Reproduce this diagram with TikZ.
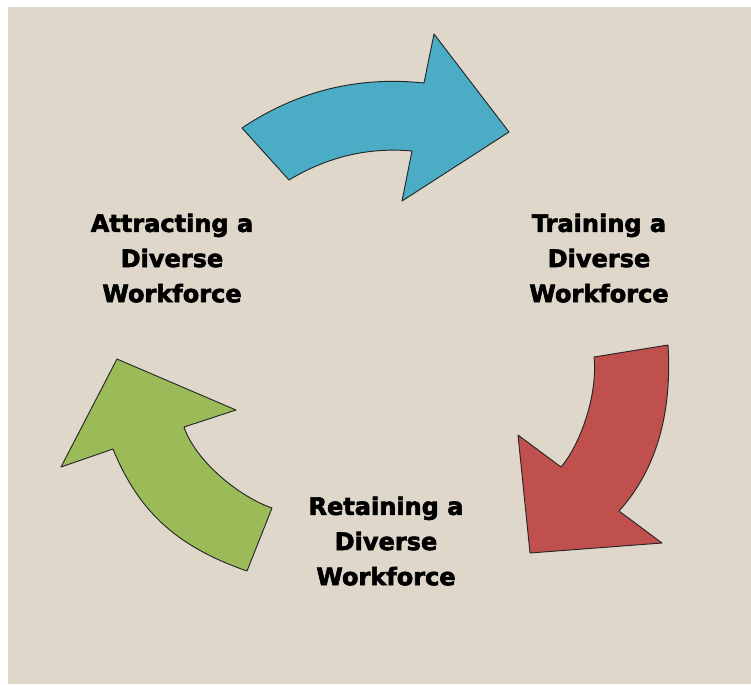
\documentclass[tikz,border=0pt]{standalone}
\usepackage{fontspec}
\newfontfamily\cyclefont[BoldFeatures={FakeBold=2.5}]{DejaVu Sans}
\definecolor{paper}{HTML}{DFD7CA}
\definecolor{cycleblue}{HTML}{4BACC6}
\definecolor{cyclered}{HTML}{C0504D}
\definecolor{cyclegreen}{HTML}{9BBB59}
\tikzset{
	arrowpiece/.style={draw=black!85,line width=0.8pt,line join=round},
	cyclelabel/.style={font=\cyclefont\bfseries\fontsize{20.5}{30}\selectfont,inner sep=0pt}
}
\begin{document}
\begin{tikzpicture}[x=0.3mm,y=-0.3mm]
	\useasboundingbox (0,0) rectangle (751,684);
	\fill[paper] (8,7) rectangle (751,684);

	\draw[arrowpiece,fill=cycleblue] (242,128) .. controls (297,91) and (358,76) .. (424,83) -- (434,34) -- (509,132) -- (402,201) -- (412,151) .. controls (368,147) and (327,157) .. (289,180) -- cycle;

	\draw[arrowpiece,fill=cyclered] (594,357) -- (668,345) .. controls (672,410) and (658,468) .. (619,511) -- (662,543) -- (530,553) -- (518,435) -- (561,467) .. controls (580,445) and (598,395) .. (594,357) -- cycle;

	\draw[arrowpiece,fill=cyclegreen] (247,571) -- (272,508) .. controls (240,497) and (196,462) .. (184,427) -- (236,410) -- (117,359) -- (61,467) -- (113,449) .. controls (138,510) and (175,546) .. (247,571) -- cycle;

	\node[cyclelabel] (attract) at (172,260) {\begin{tabular}{c}Attracting a\\Diverse\\Workforce\end{tabular}};
	\node[cyclelabel] (train) at (599,260) {\begin{tabular}{c}Training a\\Diverse\\Workforce\end{tabular}};
	\node[cyclelabel] (retain) at (386,543) {\begin{tabular}{c}Retaining a\\Diverse\\Workforce\end{tabular}};
\end{tikzpicture}
\end{document}
